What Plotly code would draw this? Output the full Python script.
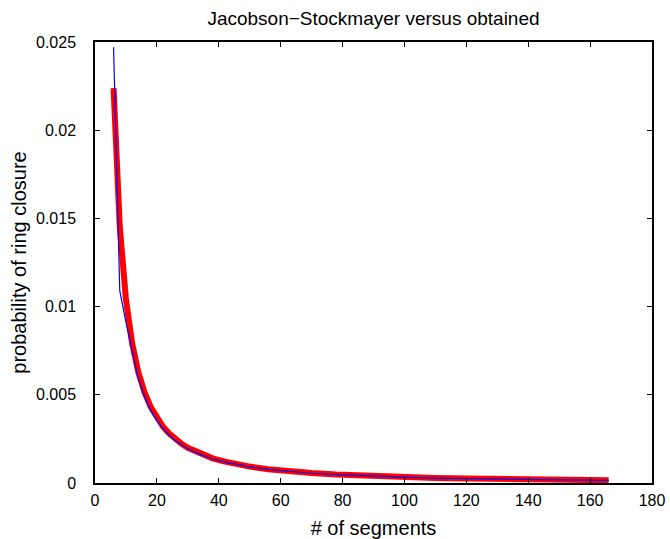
import plotly.graph_objects as go

# Chain length (number of segments)
segments = [6, 8, 10, 12, 14, 16, 18, 20, 22, 24, 26, 28, 30, 34, 38, 42, 46, 50,
            56, 62, 70, 78, 86, 94, 102, 110, 120, 130, 140, 150, 158, 166]

# Jacobson-Stockmayer prediction
jacobson_stockmayer = [0.02239, 0.01454, 0.01040, 0.00791, 0.00628, 0.00514, 0.00431,
                       0.00368, 0.00319, 0.00280, 0.00248, 0.00222, 0.00200, 0.00166,
                       0.00140, 0.00121, 0.00105, 0.000931, 0.000785, 0.000674,
                       0.000562, 0.000478, 0.000413, 0.000361, 0.000319, 0.000285,
                       0.000250, 0.000222, 0.000199, 0.000179, 0.000166, 0.000154]

# Obtained closure probability
obtained = [0.0247, 0.0109, 0.0091, 0.0074, 0.0059, 0.0049, 0.0041, 0.00354,
            0.00308, 0.00271, 0.00240, 0.00215, 0.00194, 0.00161, 0.00136,
            0.00118, 0.00103, 0.000910, 0.000770, 0.000662, 0.000553, 0.000471,
            0.000407, 0.000356, 0.000314, 0.000281, 0.000246, 0.000218,
            0.000196, 0.000176, 0.000163, 0.000151]

x_ticks = [0, 20, 40, 60, 80, 100, 120, 140, 160, 180]
y_ticks = [0, 0.005, 0.01, 0.015, 0.02, 0.025]
y_tick_text = ["0", "0.005", "0.01", "0.015", "0.02", "0.025"]

FONT = "Liberation Sans, Arial, Helvetica, sans-serif"

fig = go.Figure()
fig.add_trace(go.Scatter(x=segments, y=jacobson_stockmayer, mode="lines",
                         line=dict(color="#ff0000", width=6),
                         name="Jacobson-Stockmayer"))
fig.add_trace(go.Scatter(x=segments, y=obtained, mode="lines",
                         line=dict(color="#0000ff", width=1.2),
                         name="obtained"))

axis_common = dict(showline=True, linecolor="black", linewidth=1.5, mirror="ticks",
                   ticks="inside", ticklen=5, tickcolor="black", tickwidth=1,
                   showgrid=False, zeroline=False, automargin=False,
                   tickfont=dict(family=FONT, size=16, color="black"))

fig.update_layout(
    width=670, height=539,
    margin=dict(l=95, r=18, t=42, b=56),
    paper_bgcolor="white", plot_bgcolor="white",
    showlegend=False,
    title=dict(text="Jacobson\u2212Stockmayer versus obtained",
               x=0.5, xref="paper", xanchor="center",
               y=1, yref="container", yanchor="top", pad=dict(t=12),
               font=dict(family=FONT, size=19, color="black")),
    xaxis=dict(range=[0, 180], tickvals=x_ticks, ticklabelstandoff=2,
               title=dict(text="# of segments", standoff=14,
                          font=dict(family=FONT, size=20, color="black")),
               **axis_common),
    yaxis=dict(range=[0, 0.025], tickvals=y_ticks, ticktext=y_tick_text,
               ticklabelstandoff=14,
               title=dict(text="probability of ring closure", standoff=4,
                          font=dict(family=FONT, size=20, color="black")),
               **axis_common),
)

fig.write_html("out.html")
